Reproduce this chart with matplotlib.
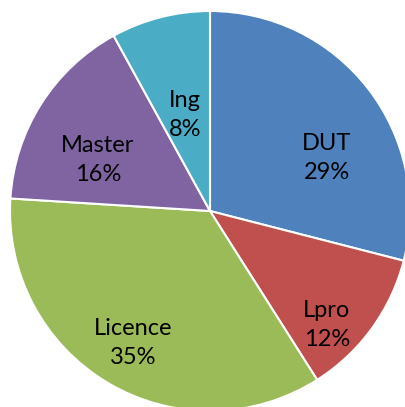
import matplotlib
matplotlib.use("Agg")
import matplotlib.pyplot as plt

labels = ["DUT", "Lpro", "Licence", "Master", "Ing"]
values = [29, 12, 35, 16, 8]
colors = ["#4F81BD", "#C0504D", "#9BBB59", "#8064A2", "#4BACC6"]
# label centres (in pie radius units), placed like the original
label_pos = [(0.585, 0.265), (0.585, -0.57), (-0.385, -0.66), (-0.56, 0.255), (-0.125, 0.48)]

fig = plt.figure(figsize=(4.06, 4.07), dpi=100)
ax = fig.add_axes([0, 0, 1, 1])
ax.pie(values, colors=colors, startangle=90, counterclock=False, radius=1,
       wedgeprops=dict(edgecolor="white", linewidth=1.5))
ax.set_aspect("auto")
ax.set_xlim(-1.05, 0.98)
ax.set_ylim(-0.98, 1.055)
ax.axis("off")

for name, v, (x, y) in zip(labels, values, label_pos):
    ax.text(x, y, f"{name}\n{v}%", ha="center", va="center", fontsize=17,
            family="Lato", linespacing=1.5, color="black")

fig.savefig("out.png", dpi=100)
